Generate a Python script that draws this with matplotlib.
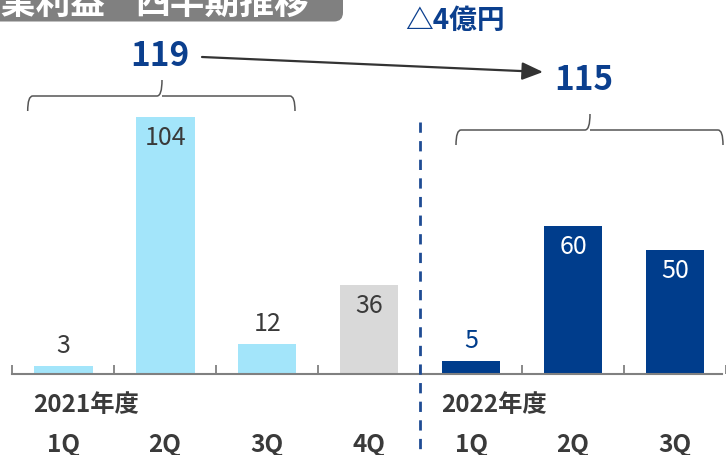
import matplotlib
matplotlib.use('Agg')
import matplotlib.pyplot as plt
import numpy as np
from matplotlib.transforms import Affine2D, blended_transform_factory
from matplotlib.patches import FancyBboxPatch, PathPatch
from matplotlib.path import Path

plt.rcParams['font.family'] = ['Noto Sans CJK JP', 'DejaVu Sans']

# data
quarters = ['1Q', '2Q', '3Q', '4Q', '1Q', '2Q', '3Q']
fiscal_years = ['2021年度', '2022年度']
year_of_bar = [0, 0, 0, 0, 1, 1, 1]
profit = [3, 104, 12, 36, 5, 60, 50]
compared = [True, True, True, False, True, True, True]
title_words = ['営業利益', '四半期推移']

light_blue = '#a3e5fa'
grey_bar = '#d9d9d9'
navy = '#003d8c'
text_navy = '#0b3f8e'
dark_text = '#3a3a3a'

W, H = 726, 456
fig = plt.figure(figsize=(W / 100, H / 100), dpi=100)
ax = fig.add_axes([0, 0, 1, 1])
# pixel coords measured from top-left
px = Affine2D().scale(1 / W, -1 / H).translate(0, 1) + fig.transFigure

step = 102.5      # px per category
left_px = 12.3    # px of first category boundary
base_px = 374.7   # px of the zero line
unit_px = 2.468   # px per value unit
x0 = -0.5 - left_px / step
ax.set_xlim(x0, x0 + W / step)
ax.set_ylim(-(H - base_px) / unit_px, base_px / unit_px)
ax.patch.set_alpha(0)

x = np.arange(len(profit))
colors = []
for i in range(len(profit)):
    if year_of_bar[i] == 1:
        colors.append(navy)
    elif compared[i]:
        colors.append(light_blue)
    else:
        colors.append(grey_bar)
ax.bar(x, profit, width=0.575, color=colors, zorder=2)

# value labels
for i, v in enumerate(profit):
    if v < 20:
        off, col = 21.5, (navy if year_of_bar[i] == 1 else dark_text)
    else:
        off, col = -20, ('white' if year_of_bar[i] == 1 else dark_text)
    ax.annotate(str(v), xy=(i, v), xytext=(0, off * 0.72), textcoords='offset points',
                ha='center', va='center', fontsize=18, color=col, zorder=3)

# axis line and ticks
for s in ['top', 'left', 'right']:
    ax.spines[s].set_visible(False)
ax.spines['bottom'].set_position(('data', 0))
ax.spines['bottom'].set_bounds(-0.5, ax.get_xlim()[1])
ax.spines['bottom'].set_color('#808080')
ax.spines['bottom'].set_linewidth(1.5)
ax.set_yticks([])
ax.set_xticks([])
ax.set_xticks(np.arange(-0.5, len(profit), 1), minor=True)
ax.tick_params(axis='x', which='minor', direction='in', length=6.5, width=1.3,
               color='#808080', labelbottom=False)

# quarter and year labels
bt = blended_transform_factory(ax.transData, px)
for i, q in enumerate(quarters):
    ax.text(i, 452, q, transform=bt, ha='center', va='baseline',
            fontsize=17.5, fontweight='bold', color=dark_text)
for k, fy in enumerate(fiscal_years):
    first = year_of_bar.index(k)
    ax.text(first - 0.29, 405, fy, transform=bt, ha='left', va='center',
            fontsize=17.5, fontweight='bold', color=dark_text)

# year divider
ax.plot([3.5, 3.5], [123, H], transform=bt, color='#1f4c94', lw=2.0,
        dashes=(3.7, 3), zorder=4, clip_on=False)

# totals for compared quarters
total_21 = sum(v for v, y, c in zip(profit, year_of_bar, compared) if y == 0 and c)
total_22 = sum(v for v, y, c in zip(profit, year_of_bar, compared) if y == 1 and c)


def brace(xa, xb, xm, yh, yend, ypeak):
    r = 5
    verts = [(xa, yend), (xa, yh), (xa + r, yh), (xm - r, yh), (xm, yh), (xm, ypeak),
             (xm, yh), (xm + r, yh), (xb - r, yh), (xb, yh), (xb, yend)]
    codes = [Path.MOVETO, Path.CURVE3, Path.CURVE3, Path.LINETO, Path.CURVE3, Path.CURVE3,
             Path.MOVETO, Path.CURVE3, Path.LINETO, Path.CURVE3, Path.CURVE3]
    ax.add_patch(PathPatch(Path(verts, codes), transform=px, fill=False,
                           edgecolor='#555555', lw=1.1, clip_on=False))


brace(27.7, 295, 162, 97, 112, 81)
brace(456, 723, 590, 131, 146, 115)

ax.text(160, 57, str(total_21), transform=px, ha='center', va='center',
        fontsize=24, fontweight='bold', color=text_navy)
ax.text(584, 81, str(total_22), transform=px, ha='center', va='center',
        fontsize=24, fontweight='bold', color=text_navy)
ax.annotate('', xy=(543, 73), xytext=(202, 58), xycoords=px, textcoords=px,
            arrowprops=dict(arrowstyle='-|>,head_length=0.85,head_width=0.36',
                            mutation_scale=15, color='#333333', lw=1.6,
                            shrinkA=0, shrinkB=0))
ax.text(455, 21, '△' + str(total_21 - total_22) + '億円', transform=px,
        ha='center', va='center', fontsize=20, fontweight='bold', color=text_navy)

# title box (cut at the top like the source slide)
ax.add_patch(FancyBboxPatch((-20, -20), 363, 42.5, boxstyle='round,pad=0,rounding_size=9',
                            transform=px, facecolor='#808080', edgecolor='none',
                            clip_on=False, zorder=5))
ax.text(105, 14, title_words[0], transform=px, ha='right', va='baseline', fontsize=25,
        fontweight='bold', color='white', zorder=6)
ax.text(135, 14, title_words[1], transform=px, ha='left', va='baseline', fontsize=25,
        fontweight='bold', color='white', zorder=6)

fig.savefig('out.png', dpi=100)
